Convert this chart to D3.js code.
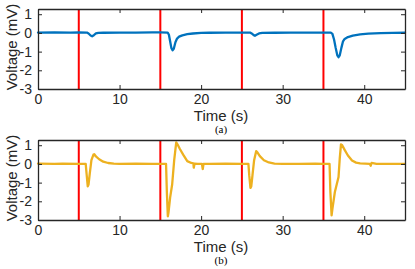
<!DOCTYPE html>
<html><head><meta charset="utf-8">
<script src="https://cdn.jsdelivr.net/npm/d3@7"></script>
<style>html,body{margin:0;padding:0;background:#fff;}svg{display:block;}</style>
</head><body>
<script>
// ---- data ----
const xTicks = [0, 10, 20, 30, 40];
const yTicks = [1, 0, -1, -2, -3];
const stimTimes = [5, 15, 25, 35];
const panelLabels = ["(a)", "(b)"];
const xLabel = "Time (s)";
const yLabel = "Voltage (mV)";

const timeA = [0,2,4,5,6.0,6.2,6.45,6.63,6.85,7.1,7.4,8,10,12,14,15,15.9,16.05,16.2,16.35,16.5,16.65,16.85,17.05,17.3,17.7,18.3,19,20,21,23,25,26.0,26.2,26.45,26.6,26.8,27.1,27.5,29,31,33,35,35.9,36.1,36.3,36.5,36.7,36.85,37.0,37.2,37.4,37.6,38,38.6,39.5,40.5,42,43.5,45];
const voltA = [0.02,0.03,0.02,0.03,0.02,-0.03,-0.14,-0.18,-0.12,-0.03,0.0,0.01,0.02,0.02,0.03,0.03,0.02,-0.1,-0.45,-0.8,-0.93,-0.85,-0.5,-0.3,-0.2,-0.13,-0.07,-0.03,0.0,0.01,0.02,0.02,0.02,-0.03,-0.12,-0.15,-0.1,-0.03,0.0,0.01,0.02,0.02,0.02,0.02,-0.05,-0.35,-0.8,-1.2,-1.3,-1.2,-0.8,-0.45,-0.32,-0.22,-0.14,-0.08,-0.04,-0.01,0.0,0.01];

const timeB = [0,2,3,5,5.85,5.95,6.1,6.2,6.35,6.55,6.8,6.9,7.1,7.5,8.0,8.6,9.3,10,12,14,15,15.7,15.8,15.92,16.0,16.2,16.45,16.7,16.95,17.1,17.4,17.8,18.3,18.8,19.05,19.1,19.2,19.6,20.1,20.2,20.3,21,23,25,25.8,25.9,26.05,26.15,26.3,26.5,26.75,26.9,27.2,27.7,28.3,29,30,32,34,35,35.75,35.85,36.0,36.1,36.4,36.85,37.0,37.15,37.3,37.6,38.0,38.5,39.0,39.5,40.7,40.8,40.9,41.5,43,45];
const voltB = [0.02,0.0,0.02,0.0,0.0,-0.5,-1.2,-1.1,-0.5,0.2,0.5,0.52,0.4,0.25,0.12,0.05,0.02,0.0,0.01,0.0,0.0,0.0,-1.5,-2.8,-2.6,-1.8,-1.1,0.2,1.15,1.05,0.8,0.5,0.15,0.05,0.03,-0.2,0.02,0.0,0.0,-0.27,0.0,0.0,0.01,0.0,0.0,-0.6,-1.28,-1.2,-0.6,0.2,0.68,0.62,0.42,0.2,0.08,0.02,0.0,0.0,0.01,0.0,0.0,-1.5,-2.75,-2.4,-1.5,-0.7,0.3,1.05,1.0,0.75,0.45,0.18,0.07,0.03,0.0,-0.1,0.05,0.0,0.0,0.0];

const W = 415, H = 269;
const svg = d3.select("body").append("svg").attr("width", W).attr("height", H);

const left = 38, right = 405;
const x = d3.scaleLinear().domain([0, 45]).range([left, right]);

const panels = [
  {top: 9, bottom: 89, time: timeA, volt: voltA, color: "#0072BD", label: panelLabels[0]},
  {top: 140, bottom: 220, time: timeB, volt: voltB, color: "#EDB120", label: panelLabels[1]}
];

const axisColor = "#262626";
const font = "Arial, 'Liberation Sans', Helvetica, sans-serif";
const fmt = d => String(d);

panels.forEach(p => {
  const y = d3.scaleLinear().domain([-3, 1.28]).range([p.bottom, p.top]);
  const g = svg.append("g");

  // red stimulus lines
  g.selectAll("line.stim").data(stimTimes).enter().append("line")
    .attr("x1", d => x(d)).attr("x2", d => x(d))
    .attr("y1", p.top).attr("y2", p.bottom)
    .attr("stroke", "#FF0000").attr("stroke-width", 2);

  // signal
  const pts = p.time.map((t, i) => [t, p.volt[i]]);
  g.append("path").datum(pts)
    .attr("fill", "none").attr("stroke", p.color).attr("stroke-width", 2.3)
    .attr("stroke-linejoin", "round").attr("stroke-linecap", "round")
    .attr("d", d3.line().x(d => x(d[0])).y(d => y(d[1])));

  // axes (inside ticks)
  const bottomAxis = d3.axisBottom(x).tickValues(xTicks).tickSize(-4).tickPadding(5).tickSizeOuter(0).tickFormat(fmt);
  const topAxis = d3.axisTop(x).tickValues(xTicks).tickSize(-4).tickFormat("").tickSizeOuter(0);
  const leftAxis = d3.axisLeft(y).tickValues(yTicks).tickSize(-4).tickPadding(6).tickSizeOuter(0).tickFormat(fmt);
  const rightAxis = d3.axisRight(y).tickValues(yTicks).tickSize(-4).tickFormat("").tickSizeOuter(0);

  const styleAxis = sel => {
    sel.selectAll("path").attr("stroke", axisColor).attr("stroke-width", 1.3);
    sel.selectAll("line").attr("stroke", axisColor).attr("stroke-width", 1);
    sel.selectAll("text").attr("fill", axisColor).style("font-family", font).style("font-size", "14px");
  };
  g.append("g").attr("transform", `translate(0,${p.bottom})`).call(bottomAxis).call(styleAxis);
  g.append("g").attr("transform", `translate(0,${p.top})`).call(topAxis).call(styleAxis);
  g.append("g").attr("transform", `translate(${left},0)`).call(leftAxis).call(styleAxis);
  g.append("g").attr("transform", `translate(${right},0)`).call(rightAxis).call(styleAxis);

  // x label
  g.append("text").attr("x", 221).attr("y", p.bottom + 32)
    .attr("text-anchor", "middle").attr("fill", axisColor)
    .style("font-family", font).style("font-size", "15px").text(xLabel);
  // y label
  g.append("text")
    .attr("transform", `translate(17,${(p.top + p.bottom) / 2 - 2}) rotate(-90)`)
    .attr("text-anchor", "middle").attr("fill", axisColor)
    .style("font-family", font).style("font-size", "15px").text(yLabel);
  // panel label
  g.append("text").attr("x", 221).attr("y", p.bottom + 44)
    .attr("text-anchor", "middle").attr("fill", "#000")
    .style("font-family", "'Liberation Serif', 'Times New Roman', serif").style("font-size", "11px").text(p.label);
});
</script>
</body></html>
